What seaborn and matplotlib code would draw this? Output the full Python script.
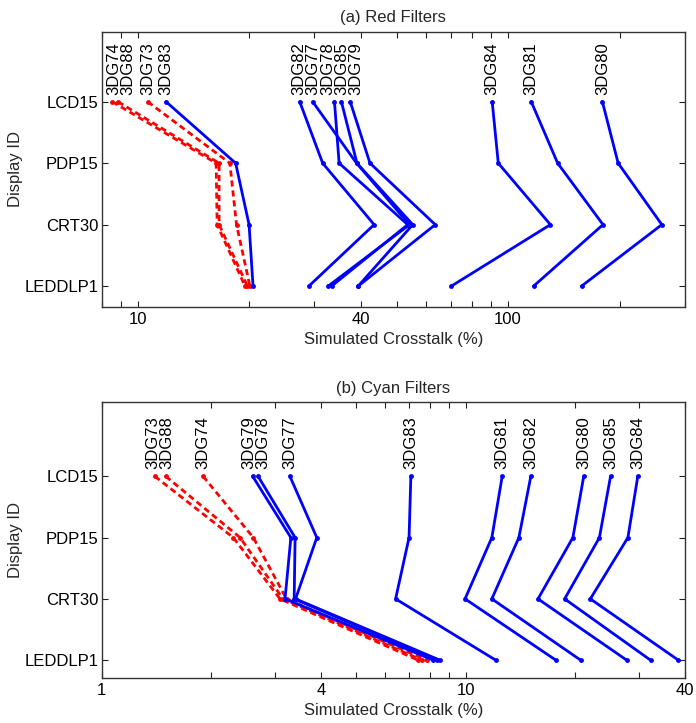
import numpy as np
import pandas as pd
import matplotlib
matplotlib.use("Agg")
import matplotlib.pyplot as plt
import matplotlib.ticker as mticker
import seaborn as sns

# Displays, top to bottom
displays = ["LCD15", "PDP15", "CRT30", "LEDDLP1"]

# (a) Red filters: simulated crosstalk (%) per display
red_filters = ["3DG74", "3DG88", "3DG73", "3DG83", "3DG82", "3DG77",
               "3DG78", "3DG85", "3DG79", "3DG84", "3DG81", "3DG80"]
red_lcd15 = [8.55, 8.86, 10.65, 11.94, 27.4, 29.7, 34.0, 35.5, 37.5, 90.6, 115.5, 179.7]
red_pdp15 = [16.3, 16.6, 17.75, 18.4, 31.6, 39.0, 35.0, 39.1, 42.4, 94.1, 136.1, 198.2]
red_crt30 = [16.4, 16.6, 18.5, 20.0, 43.5, 54.2, 53.6, 55.3, 63.6, 130.1, 180.4, 260.0]
red_leddlp1 = [19.5, 19.8, 20.1, 20.5, 29.0, 32.7, 33.4, 39.4, 39.4, 70.3, 117.2, 157.9]

# (b) Cyan filters
cyan_filters = ["3DG73", "3DG88", "3DG74", "3DG79", "3DG78", "3DG77",
                "3DG83", "3DG81", "3DG82", "3DG80", "3DG85", "3DG84"]
cyan_lcd15 = [1.40, 1.50, 1.90, 2.60, 2.69, 3.29, 7.07, 12.6, 15.1, 21.1, 25.0, 29.7]
cyan_pdp15 = [2.30, 2.40, 2.61, 3.31, 3.40, 3.90, 6.99, 11.8, 14.0, 19.7, 23.3, 27.9]
cyan_crt30 = [3.09, 3.15, 3.22, 3.19, 3.38, 3.41, 6.42, 9.96, 11.8, 15.8, 18.7, 22.0]
cyan_leddlp1 = [7.41, 7.59, 7.81, 8.15, 8.34, 8.50, 12.1, 17.7, 20.7, 27.7, 32.2, 38.4]

# filters drawn as red dashed lines
dashed_filters = ["3DG73", "3DG74", "3DG88"]

sns.set_theme(style="white")
plt.rcParams["font.family"] = ["Liberation Sans", "DejaVu Sans"]
plt.rcParams.update({
    "font.size": 12,
    "xtick.direction": "in", "ytick.direction": "in",
    "xtick.top": True, "ytick.right": True,
    "xtick.bottom": True, "ytick.left": True,
    "xtick.color": "#222222", "ytick.color": "#222222",
    "xtick.labelcolor": "black", "ytick.labelcolor": "black",
    "axes.edgecolor": "#333333", "axes.linewidth": 1.0,
})


def long_table(filters, cols):
    rows = []
    for i, f in enumerate(filters):
        for j, d in enumerate(displays):
            rows.append({"filter": f, "display": d, "pos": j, "crosstalk": cols[j][i]})
    return pd.DataFrame(rows)


def spread(xs, lo, gap=14, n_iter=300):
    # push label positions apart (pixels), keeping them right of lo
    order = np.argsort(xs)
    pos = np.asarray(xs, float)[order]
    for _ in range(n_iter):
        moved = False
        if pos[0] < lo:
            pos[0] = lo
        for i in range(len(pos) - 1):
            d = pos[i + 1] - pos[i]
            if d < gap - 1e-6:
                s = (gap - d) / 2
                pos[i] -= s
                pos[i + 1] += s
                moved = True
        if not moved and pos[0] >= lo:
            break
    out = np.empty_like(pos)
    out[order] = pos
    return out


fig = plt.figure(figsize=(6.96, 7.23), dpi=100)
ax1 = fig.add_axes([0.146, 0.5754, 0.838, 0.3808])
ax2 = fig.add_axes([0.146, 0.0627, 0.838, 0.3809])

panels = [
    (ax1, red_filters, [red_lcd15, red_pdp15, red_crt30, red_leddlp1],
     "(a) Red Filters", (8, 300), (3.34, -1.14)),
    (ax2, cyan_filters, [cyan_lcd15, cyan_pdp15, cyan_crt30, cyan_leddlp1],
     "(b) Cyan Filters", (1, 40), (3.285, -1.207)),
]

for ax, filters, cols, title, xlim, ylim in panels:
    df = long_table(filters, cols)
    palette = {f: ("#ff0000" if f in dashed_filters else "#0000ff") for f in filters}
    dashes = {f: ((2.2, 1.4) if f in dashed_filters else "") for f in filters}
    markers = {f: "o" for f in filters}
    sns.lineplot(data=df, x="crosstalk", y="pos", hue="filter", style="filter",
                 palette=palette, dashes=dashes, markers=markers, markersize=3.5,
                 markeredgewidth=0, linewidth=2, sort=False, estimator=None,
                 legend=False, ax=ax)
    ax.set_xscale("log")
    ax.set_xlim(*xlim)
    ax.set_ylim(*ylim)
    ax.xaxis.set_major_locator(mticker.FixedLocator([1, 4, 10, 40, 100]))
    ax.xaxis.set_major_formatter(mticker.FormatStrFormatter("%g"))
    ax.xaxis.set_minor_locator(mticker.LogLocator(base=10, subs=np.arange(2, 10)))
    ax.xaxis.set_minor_formatter(mticker.NullFormatter())
    ax.set_yticks(range(len(displays)))
    ax.set_yticklabels(displays)
    ax.tick_params(which="both", length=4.5, width=0.8, labelsize=12)
    ax.tick_params(axis="y", pad=2.5)
    ax.set_xlabel("Simulated Crosstalk (%)", fontsize=12)
    ax.set_ylabel("Display ID", fontsize=12)
    ax.yaxis.set_label_coords(-0.135, 0.5)
    ax.set_title(title, fontsize=12, pad=7)
    for s in ax.spines.values():
        s.set_visible(True)

    # filter names above the first display, spread apart so they do not overlap
    top_vals = cols[0]
    px = np.array([ax.transData.transform((v, 0))[0] for v in top_vals])
    left_px = ax.transAxes.transform((0, 0))[0]
    new_px = spread(px, left_px + 12)
    for f, v, p0, p1 in zip(filters, top_vals, px, new_px):
        ax.annotate(f, xy=(v, 0), xytext=((p1 - p0) * 0.72, 5),
                    textcoords="offset points", rotation=90,
                    ha="center", va="bottom", fontsize=12, color="black")

fig.savefig("out.png", dpi=100)
